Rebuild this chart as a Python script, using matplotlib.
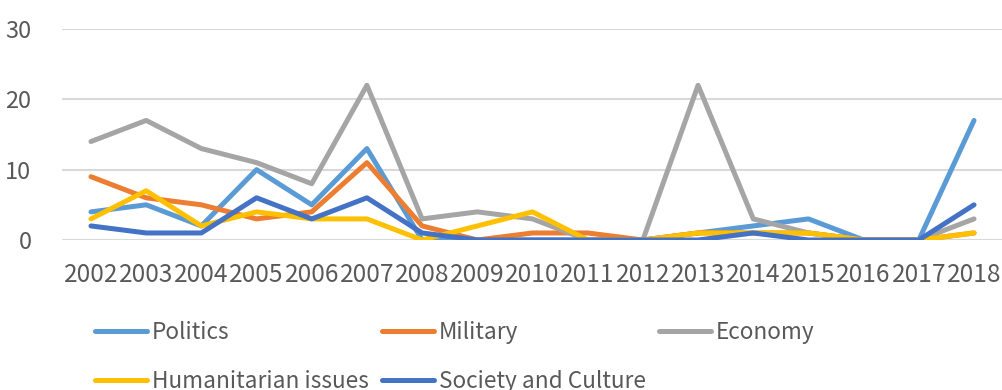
import matplotlib
matplotlib.use("Agg")
import matplotlib.pyplot as plt

plt.rcParams['font.family'] = ['Noto Sans CJK SC', 'DejaVu Sans']
plt.rcParams['font.weight'] = 'light'

years = ["2002", "2003", "2004", "2005", "2006", "2007", "2008", "2009", "2010",
         "2011", "2012", "2013", "2014", "2015", "2016", "2017", "2018"]

politics = [4, 5, 2, 10, 5, 13, 0, 0, 0, 0, 0, 1, 2, 3, 0, 0, 17]
military = [9, 6, 5, 3, 4, 11, 2, 0, 1, 1, 0, 1, 1, 1, 0, 0, 1]
economy = [14, 17, 13, 11, 8, 22, 3, 4, 3, 0, 0, 22, 3, 1, 0, 0, 3]
humanitarian = [3, 7, 2, 4, 3, 3, 0, 2, 4, 0, 0, 1, 1, 1, 0, 0, 1]
society = [2, 1, 1, 6, 3, 6, 1, 0, 0, 0, 0, 0, 1, 0, 0, 0, 5]

series = [
    ("Politics", politics, "#5B9BD5"),
    ("Military", military, "#ED7D31"),
    ("Economy", economy, "#A5A5A5"),
    ("Humanitarian issues", humanitarian, "#FFC000"),
    ("Society and Culture", society, "#4472C4"),
]

text_color = "#595959"
grid_color = "#D9D9D9"
fs = 16.3

fig = plt.figure(figsize=(10.03, 3.9), dpi=100)
ax = fig.add_axes([62 / 1003, (390 - 240) / 390, (1003 - 62) / 1003, (240 - 29) / 390])

x = list(range(len(years)))
handles = {}
for name, vals, color in series:
    line, = ax.plot(x, vals, color=color, linewidth=3.6,
                    solid_capstyle="round", solid_joinstyle="round",
                    label=name, zorder=3)
    handles[name] = line

ax.set_xlim(-0.525, len(years) - 1 + 0.525)
ax.set_ylim(0, 30)
ax.set_yticks([0, 10, 20, 30])
ax.set_xticks(x)
ax.set_xticklabels(years)
ax.grid(axis="y", color=grid_color, linewidth=1.5, zorder=0)
ax.set_axisbelow(True)
for s in ax.spines.values():
    s.set_visible(False)
ax.tick_params(axis="both", length=0, colors=text_color)
ax.tick_params(axis="x", pad=16, labelsize=17.6)
ax.tick_params(axis="y", pad=22, labelsize=17)

# legend filled column by column, so order entries to read row-wise
order = ["Politics", "Humanitarian issues", "Military", "Society and Culture", "Economy"]
leg = fig.legend([handles[n] for n in order], order, ncol=3,
                 loc="upper left", bbox_to_anchor=(95 / 1003, 1 - 321 / 390),
                 frameon=False, fontsize=fs, handlelength=2.3,
                 handletextpad=0.2, columnspacing=0.6, labelspacing=1.15,
                 borderaxespad=0, borderpad=0)
for t in leg.get_texts():
    t.set_color(text_color)

fig.savefig("out.png", dpi=100)
